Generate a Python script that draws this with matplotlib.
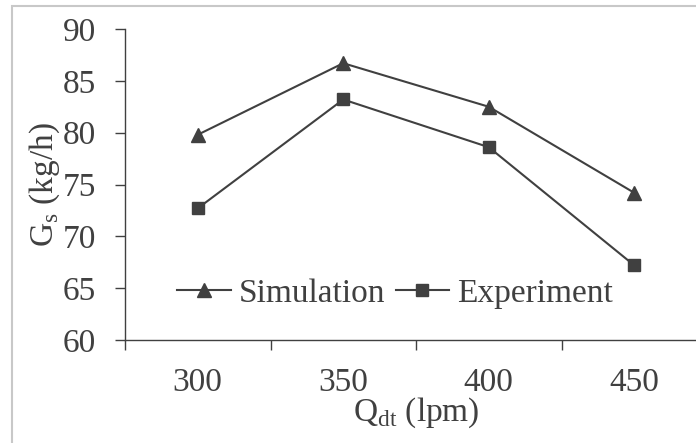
import matplotlib.pyplot as plt
from matplotlib.patches import Rectangle

flow = ["300", "350", "400", "450"]
simulation = [79.8, 86.7, 82.5, 74.2]
experiment = [72.7, 83.2, 78.6, 67.2]

plt.rcParams['font.family'] = ['Liberation Serif', 'DejaVu Serif']
plt.rcParams['mathtext.fontset'] = 'custom'
plt.rcParams['mathtext.rm'] = 'Liberation Serif'
dark = '#404040'
fs = 24

fig = plt.figure(figsize=(6.96, 4.43), dpi=100)
fig.patches.append(Rectangle((12 / 696, -0.1), 1.2, 1 - 6 / 443 + 0.1,
                             transform=fig.transFigure, fill=False,
                             edgecolor='#c8c8c8', linewidth=1.5))

ax = fig.add_axes([125 / 696, 1 - 340 / 443, 582 / 696, 311 / 443])
x = list(range(len(flow)))
ax.plot(x, simulation, color=dark, lw=1.5, marker='^', ms=9.5, label='Simulation')
ax.plot(x, experiment, color=dark, lw=1.5, marker='s', ms=8, label='Experiment')

ax.set_xlim(-0.5, len(flow) - 0.5)
ax.set_ylim(60, 90)
ax.set_yticks(range(60, 91, 5))
ax.set_xticks([i + 0.5 for i in range(-1, len(flow))])
ax.set_xticklabels([])
ax.set_xticks(x, minor=True)
ax.set_xticklabels(flow, minor=True)
ax.tick_params(axis='x', which='major', length=7, width=1, color=dark, direction='out')
ax.tick_params(axis='x', which='minor', length=0, pad=20, labelsize=fs, labelcolor=dark)
ax.tick_params(axis='y', length=7, width=1, color=dark, labelsize=fs, labelcolor=dark, pad=14)

for s in ['top', 'right']:
    ax.spines[s].set_visible(False)
for s in ['left', 'bottom']:
    ax.spines[s].set_color(dark)
    ax.spines[s].set_linewidth(1)

ax.set_ylabel('G$_\\mathregular{s}$ (kg/h)', fontsize=fs, color=dark, labelpad=0)
ax.set_xlabel('Q$_\\mathregular{dt}$ (lpm)', fontsize=fs, color=dark, labelpad=-2)

ax.legend(loc='center left', bbox_to_anchor=(0.09, 0.15), ncol=2, frameon=False,
          fontsize=fs, labelcolor=dark, handlelength=1.6, handletextpad=0.25,
          columnspacing=0.3, borderaxespad=0, borderpad=0)

fig.savefig('out.png', dpi=100, facecolor='white')
